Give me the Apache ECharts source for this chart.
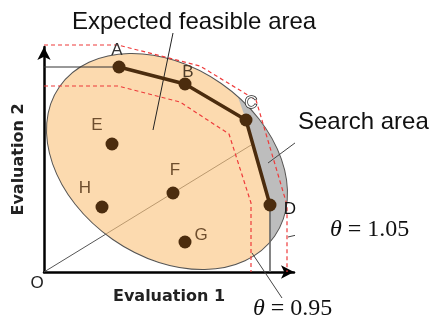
<!DOCTYPE html>
<html>
<head>
<meta charset="utf-8">
<script src="https://cdn.jsdelivr.net/npm/echarts@6/dist/echarts.min.js"></script>
<style>
  html, body { margin: 0; padding: 0; background: #fff; }
  #chart { width: 438px; height: 322px; }
</style>
</head>
<body>
<div id="chart"></div>
<script>
// evaluation space: x 0..100, y 0..90, same unit length on both axes
const pointNames = ['A', 'B', 'C', 'D', 'E', 'F', 'G', 'H']
const pointEval1 = [30, 56.4, 80.8, 90.4, 27.2, 51.6, 56.4, 23.2]
const pointEval2 = [82, 75.2, 60.8, 26.8, 51.2, 31.6, 12, 26]
const frontierNames = ['A', 'B', 'C', 'D']

// expected feasible area: centre, semi axes, tilt in degrees
const areaCenter = [49.2, 44.2]
const areaAxes = [52.4, 38]
const areaTilt = -34.8

// search area outline (the part inside the feasible area is shown)
const searchX = [80.8, 75.6, 106.4, 106.4, 90.4, 90.4]
const searchY = [60.8, 75.6, 75.6, 4.8, 4.8, 26.8]

// theta = 1.05 / theta = 0.95 boundaries
const upperX = [0, 29.6, 62.4, 84.8, 97.2, 97.2]
const upperY = [90.8, 90.8, 82.4, 68.8, 26.8, 0]
const lowerX = [0, 29.6, 54.4, 74, 82.8, 82.8]
const lowerY = [74.4, 74.4, 68, 55.2, 27.6, 0]

// guide lines
const diagX = [0, 83.2]
const diagY = [0, 51]
const titleLeadX = [51.6, 43.6]
const titleLeadY = [95.6, 56.8]
const searchLeadX = [103.6, 89.6]
const searchLeadY = [54, 43.6]
const upperLeadX = [109.6, 97.6]
const upperLeadY = [16.8, 14]
const lowerLeadX = [95.2, 83.2]
const lowerLeadY = [-10.4, 7.6]

const chart = echarts.init(document.getElementById('chart'))

const idx = n => pointNames.indexOf(n)

const line = (xs, ys, lineStyle, z) => ({
  type: 'line',
  data: xs.map((x, i) => [x, ys[i]]),
  symbol: 'none',
  clip: false,
  silent: true,
  z: z,
  lineStyle: lineStyle
})

// label placement around each point (pixels)
const labelOffset = {
  A: [-2, -17], B: [3, -12], C: [5, -17], D: [20, 4],
  E: [-15, -19], F: [2, -23], G: [16, -7], H: [-17, -19]
}
const labelColor = {
  A: '#333', B: '#4d3b28', C: '#fff', D: '#111',
  E: '#6e4e2e', F: '#6e4e2e', G: '#6e4e2e', H: '#6e4e2e'
}

const sans = 'Liberation Sans, Arial, sans-serif'
const serif = 'Liberation Serif, Times New Roman, serif'

const thetaText = (value, x, y) => ({
  type: 'text',
  x: x,
  y: y,
  style: {
    text: '{i|θ}{n| = ' + value + '}',
    textVerticalAlign: 'middle',
    rich: {
      i: { fontFamily: serif, fontStyle: 'italic', fontSize: 24, fill: '#111' },
      n: { fontFamily: serif, fontSize: 24, fill: '#111' }
    }
  }
})

const axisName = { fontFamily: 'DejaVu Sans', fontSize: 16, fontWeight: 'bold', color: '#222' }

const option = {
  animation: false,
  title: {
    text: 'Expected feasible area',
    left: 67,
    top: 5,
    textStyle: { fontFamily: sans, fontSize: 24, fontWeight: 'normal', color: '#111' }
  },
  grid: { left: 44, top: 47, width: 250, height: 225 },
  xAxis: {
    type: 'value',
    min: 0,
    max: 100,
    name: 'Evaluation 1',
    nameLocation: 'middle',
    nameGap: 17,
    nameTextStyle: axisName,
    axisLine: { lineStyle: { color: '#000', width: 2.5 }, symbol: ['none', 'arrow'], symbolSize: [10, 13] },
    axisTick: { show: false },
    axisLabel: { show: false },
    splitLine: { show: false }
  },
  yAxis: {
    type: 'value',
    min: 0,
    max: 90,
    name: 'Evaluation 2',
    nameLocation: 'middle',
    nameGap: 17,
    nameTextStyle: axisName,
    axisLine: { lineStyle: { color: '#000', width: 2.5 }, symbol: ['none', 'arrow'], symbolSize: [10, 13] },
    axisTick: { show: false },
    axisLabel: { show: false },
    splitLine: { show: false }
  },
  graphic: [
    { type: 'text', x: 37, y: 283, style: { text: 'O', font: '17px ' + sans, fill: '#222', textAlign: 'center', textVerticalAlign: 'middle' } },
    { type: 'text', x: 298, y: 122, style: { text: 'Search area', font: '24px ' + sans, fill: '#111', textVerticalAlign: 'middle' } },
    thetaText('1.05', 330, 230),
    thetaText('0.95', 253, 309)
  ],
  series: [
    line(diagX, diagY, { color: '#555', width: 1 }, 1),
    {
      type: 'custom',
      coordinateSystem: 'cartesian2d',
      clip: false,
      silent: true,
      z: 2,
      data: [areaCenter],
      renderItem: (params, api) => {
        const c = api.coord(areaCenter)
        const rx = api.size([areaAxes[0], 0])[0]
        const ry = api.size([0, areaAxes[1]])[1]
        const rot = areaTilt * Math.PI / 180
        const ell = style => ({
          type: 'ellipse', x: c[0], y: c[1], rotation: rot,
          shape: { cx: 0, cy: 0, rx: rx, ry: ry }, style: style
        })
        const pts = searchX.map((x, i) => api.coord([x, searchY[i]]))
        return {
          type: 'group',
          children: [
            ell({ fill: 'rgba(250,196,126,0.62)' }),
            {
              type: 'polygon',
              shape: { points: pts },
              style: { fill: '#bdbdbd' },
              clipPath: { type: 'ellipse', x: c[0], y: c[1], rotation: rot, shape: { cx: 0, cy: 0, rx: rx, ry: ry } }
            },
            ell({ fill: null, stroke: '#555', lineWidth: 1 })
          ]
        }
      }
    },
    line(upperX, upperY, { color: '#ee3b3b', width: 1.2, type: [4, 3] }, 3),
    line(lowerX, lowerY, { color: '#ee3b3b', width: 1.2, type: [4, 3] }, 3),
    line([0, pointEval1[idx('A')]], [pointEval2[idx('A')], pointEval2[idx('A')]], { color: '#333', width: 1 }, 3),
    line([pointEval1[idx('D')], pointEval1[idx('D')]], [pointEval2[idx('D')], 0], { color: '#666', width: 1.6 }, 3),
    line(titleLeadX, titleLeadY, { color: '#222', width: 1 }, 3),
    line(searchLeadX, searchLeadY, { color: '#444', width: 1 }, 3),
    line(upperLeadX, upperLeadY, { color: '#444', width: 1 }, 3),
    line(lowerLeadX, lowerLeadY, { color: '#444', width: 1 }, 3),
    line(frontierNames.map(n => pointEval1[idx(n)]), frontierNames.map(n => pointEval2[idx(n)]),
      { color: '#4b2c0e', width: 3.5 }, 4),
    {
      type: 'scatter',
      z: 5,
      silent: true,
      symbolSize: 13,
      itemStyle: { color: '#4b2c0e', opacity: 1 },
      data: pointNames.map((n, i) => ({
        name: n,
        value: [pointEval1[i], pointEval2[i]],
        label: {
          offset: labelOffset[n],
          color: labelColor[n],
          textBorderColor: n === 'C' ? '#222' : 'transparent',
          textBorderWidth: n === 'C' ? 1.5 : 0
        }
      })),
      label: {
        show: true,
        position: 'inside',
        formatter: '{b}',
        fontFamily: sans,
        fontSize: 17
      }
    }
  ]
}

chart.setOption(option)
window.addEventListener('resize', () => chart.resize())
</script>
</body>
</html>
